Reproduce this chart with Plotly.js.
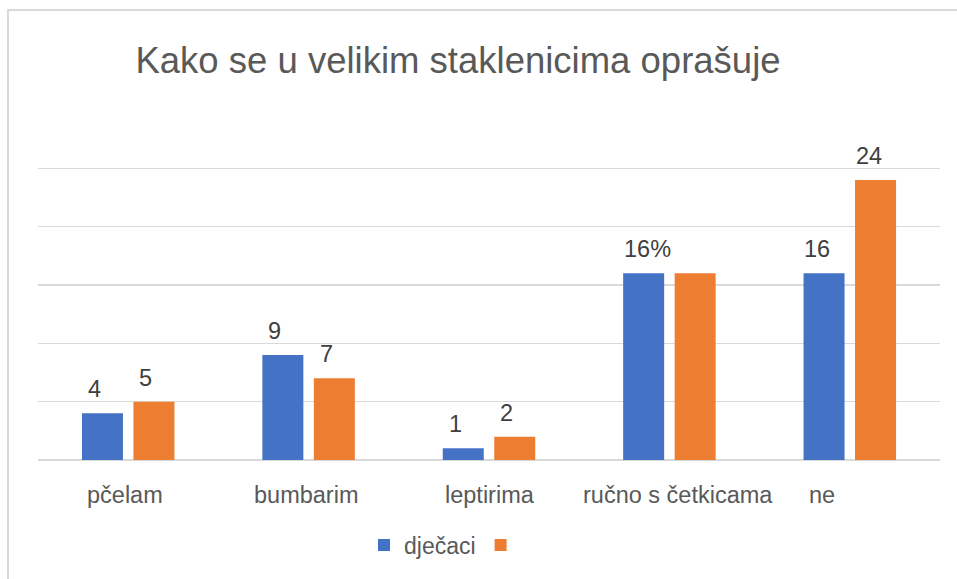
<!DOCTYPE html>
<html>
<head>
<meta charset="utf-8">
<script src="https://cdn.plot.ly/plotly-3.0.1.min.js"></script>
<style>
  html, body { margin: 0; padding: 0; background: #fff; overflow: hidden; }
  #chart { width: 957px; height: 579px; position: relative; }
  #frame { position: absolute; left: 7px; top: 9px; width: 2000px; height: 2000px;
           border: 2px solid #d9d9d9; pointer-events: none; z-index: 5; }
</style>
</head>
<body>
<div id="chart"></div>
<div id="frame"></div>
<script>
// ---- data ----
const categories = ['pčelam', 'bumbarim', 'leptirima', 'ručno s četkicama', 'ne'];
const boysValues = [4, 9, 1, 16, 16];
const secondValues = [5, 7, 2, 16, 24];
const boysLabels = ['4', '9', '1', '16%', '16'];
const secondLabels = ['5', '7', '2', '', '24'];
const seriesNames = ['dječaci', ''];
const titleText = 'Kako se u velikim staklenicima oprašuje';

// ---- style ----
const W = 957, H = 579;
const margin = { l: 38, r: 17, t: 110, b: 115, pad: 0 };
const bargap = 0.429, bargroupgap = 0.204;
const colors = ['#4472C4', '#ED7D31'];
const fontFamily = 'Liberation Sans, Arial, sans-serif';
const textGrey = '#595959';
const labelGrey = '#404040';
const labelSize = 23.5;
// small horizontal nudges of labels (px), as placed in the original
const boysLabelNudge = [-8, -8, -8, 3.5, -7];
const secondLabelNudge = [-8, -8, -8, 0, -7];
const catLabelNudge = [-3, -3, 1, 8.5, -28];

const plotW = W - margin.l - margin.r;
const plotH = H - margin.t - margin.b;
const catPx = plotW / categories.length;
const barOffset = catPx * (1 - bargap) / 4;

const traces = [
  { type: 'bar', name: seriesNames[0], x: categories, y: boysValues,
    marker: { color: colors[0] }, hoverinfo: 'x+y' },
  { type: 'bar', name: seriesNames[1], x: categories, y: secondValues,
    marker: { color: colors[1] }, hoverinfo: 'x+y' }
];

const annotations = [];
[[boysValues, boysLabels, boysLabelNudge, -1], [secondValues, secondLabels, secondLabelNudge, 1]]
  .forEach(([vals, labs, nudge, sign]) => {
    vals.forEach((v, i) => {
      if (!labs[i]) return;
      annotations.push({
        x: categories[i], y: v, xref: 'x', yref: 'y',
        text: labs[i], showarrow: false,
        xanchor: 'center', yanchor: 'bottom',
        xshift: sign * barOffset + nudge[i], yshift: 9,
        font: { family: fontFamily, size: labelSize, color: labelGrey }
      });
    });
  });
categories.forEach((c, i) => {
  annotations.push({
    x: c, y: 0, xref: 'x', yref: 'paper',
    text: c, showarrow: false,
    xanchor: 'center', yanchor: 'top',
    xshift: catLabelNudge[i], yshift: -20,
    font: { family: fontFamily, size: labelSize, color: textGrey }
  });
});

const layout = {
  width: W, height: H,
  margin: margin,
  paper_bgcolor: '#ffffff', plot_bgcolor: '#ffffff',
  barmode: 'group', bargap: bargap, bargroupgap: bargroupgap,
  title: {
    text: titleText,
    font: { family: fontFamily, size: 36.5, color: textGrey },
    xref: 'container', yref: 'container',
    x: 458 / W, xanchor: 'center',
    y: 1 - 60.5 / H, yanchor: 'middle'
  },
  xaxis: {
    type: 'category', showticklabels: false, showgrid: false,
    zeroline: false, showline: false, ticks: ''
  },
  yaxis: {
    range: [0, 30], dtick: 5, tick0: 0, showticklabels: false,
    showgrid: true, gridcolor: '#d9d9d9', gridwidth: 1.4,
    zeroline: true, zerolinecolor: '#d9d9d9', zerolinewidth: 1.4,
    showline: false, ticks: ''
  },
  showlegend: true,
  legend: {
    orientation: 'h', x: (364 - margin.l) / plotW, xanchor: 'left',
    y: -(550 - (H - margin.b)) / plotH, yanchor: 'middle',
    font: { family: fontFamily, size: 23, color: textGrey },
    bgcolor: 'rgba(0,0,0,0)', traceorder: 'normal'
  },
  annotations: annotations
};

Plotly.newPlot('chart', traces, layout, { displayModeBar: false, staticPlot: true });
</script>
</body>
</html>
